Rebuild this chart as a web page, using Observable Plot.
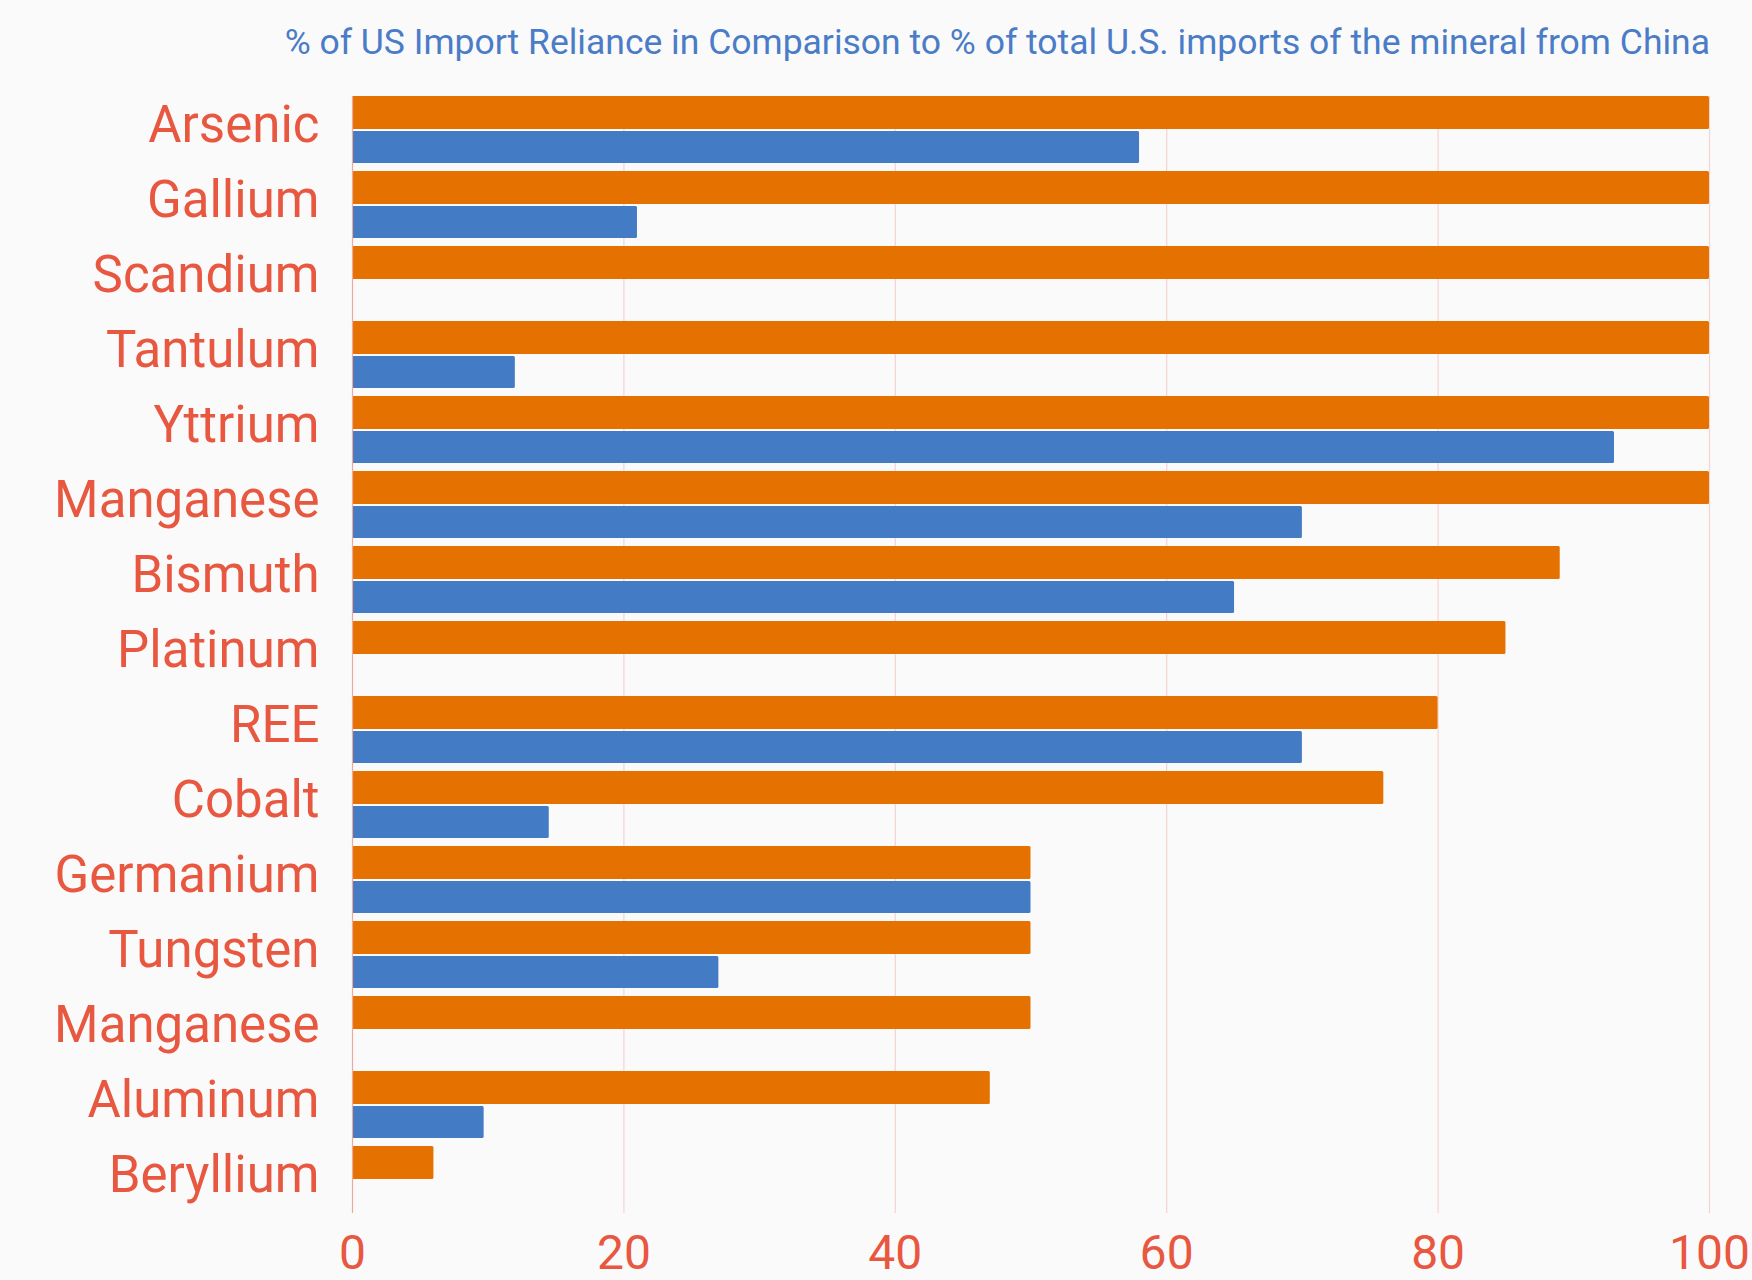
<!DOCTYPE html>
<html><head><meta charset="utf-8">
<script src="https://cdn.jsdelivr.net/npm/d3@7"></script>
<script src="https://cdn.jsdelivr.net/npm/@observablehq/plot@0.6"></script>
<style>
html,body{margin:0;padding:0;background:#fafafa;}
#wrap{position:relative;width:1752px;height:1280px;overflow:hidden;}
#title{position:absolute;right:42px;top:25px;font-family:Roboto;font-size:35.5px;line-height:1;color:#4a7cc7;white-space:nowrap;}
#chart svg{display:block;}
g[aria-label^="x-axis"] text{font-size:48px;fill:#e8573f;font-family:Roboto;}
g[aria-label^="y-axis"] text{font-size:51px;fill:#e8573f;font-family:Roboto;}
</style></head><body>
<div id="wrap"><div id="chart"></div><div id="title">% of US Import Reliance in Comparison to % of total U.S. imports of the mineral from China</div></div>
<script>
const names = ["Arsenic","Gallium","Scandium","Tantulum","Yttrium","Manganese","Bismuth","Platinum","REE","Cobalt","Germanium","Tungsten","Manganese","Aluminum","Beryllium"];
const reliance = [100,100,100,100,100,100,89,85,80,76,50,50,50,47,6];
const china = [58,21,0,12,93,70,65,0,70,14.5,50,27,0,9.7,0];
const xTicks = [0,20,40,60,80,100];

const idx = d3.range(names.length);
const relRows = idx.map(i => ({i, value: reliance[i]}));
const chinaRows = idx.map(i => ({i, value: china[i]})).filter(d => d.value > 0);

const plot = Plot.plot({
  width: 1752, height: 1280,
  marginLeft: 352, marginRight: 43, marginTop: 88, marginBottom: 67,
  style: {background: "transparent", fontFamily: "Roboto", overflow: "visible"},
  x: {domain: [0, 100], ticks: xTicks, tickSize: 0, tickPadding: 21, label: null},
  y: {domain: idx, padding: 0, tickSize: 0, tickPadding: 33, tickFormat: i => names[i], label: null},
  marks: [
    Plot.ruleX(xTicks.filter(t => t > 0), {stroke: "#f4d4d0", strokeWidth: 1.2, insetTop: 8}),
    Plot.barX(relRows, {y: "i", x: "value", fill: "#e57200", insetTop: 8, insetBottom: 34, rx: 1.5}),
    Plot.barX(chinaRows, {y: "i", x: "value", fill: "#437bc4", insetTop: 43, insetBottom: 0, rx: 1.5}),
    Plot.ruleX([0], {stroke: "#f0a89c", strokeWidth: 1.2, insetTop: 8})
  ]
});
document.getElementById("chart").appendChild(plot);
</script>
</body></html>
